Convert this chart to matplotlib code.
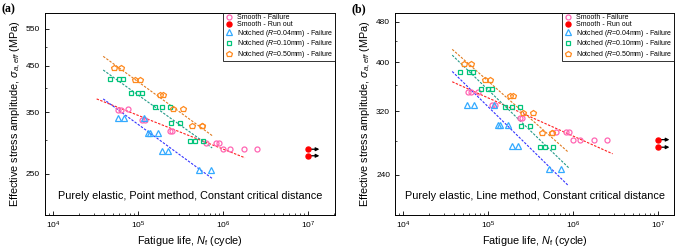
import matplotlib.pyplot as plt
from matplotlib.ticker import FixedLocator, LogLocator, NullFormatter, LogFormatterMathtext

plt.rcParams['font.family'] = ['Liberation Sans', 'DejaVu Sans']
plt.rcParams['mathtext.fontset'] = 'custom'
plt.rcParams['mathtext.rm'] = 'Liberation Sans'
plt.rcParams['mathtext.it'] = 'Liberation Sans:italic'

# ---- data (Nf in cycles, stress in MPa) ----
smooth_n = [58e3, 63e3, 75e3, 110e3, 120e3, 235e3, 252e3, 620e3, 830e3, 890e3, 1.0e6, 1.2e6, 1.77e6, 2.5e6]
smooth_s_point = [354, 354, 355, 336, 336, 316, 316, 296, 296, 296, 286, 286, 286, 286]
smooth_s_line = [350, 350, 350, 330, 330, 310.5, 310.5, 291, 291, 291, 281.5, 281.5, 281.5, 281.5]

runout_n = [1e7, 1e7]
runout_s_point = [286, 276]
runout_s_line = [281.5, 272]

r004_n = [57e3, 68e3, 117e3, 129e3, 137e3, 170e3, 191e3, 221e3, 520e3, 715e3]
r004_s_point = [339, 339, 339, 312, 312, 312, 284, 284, 255, 255]
r004_s_line = [329, 329, 329, 301, 301, 301, 274, 274, 246.6, 246.6]

r010_n = [46e3, 59e3, 66e3, 82e3, 100e3, 110e3, 157e3, 191e3, 235e3, 246e3, 308e3, 405e3, 464e3, 582e3]
r010_s_point = [420, 420, 420, 389, 389, 389, 360, 360, 360, 330, 330, 299, 299, 299]
r010_s_line = [382, 382, 382, 354, 354, 354, 327, 327, 327, 300, 300, 272.6, 272.6, 272.6]

r050_n = [52e3, 62e3, 91e3, 106e3, 180e3, 193e3, 253e3, 338e3, 431e3, 556e3, 566e3]
r050_s_point = [445, 445, 416, 416, 385, 385, 356, 356, 325, 325, 325]
r050_s_line = [396, 396, 369, 369, 343.5, 343.5, 317, 317, 290, 290, 290]

# fitted S-N lines (end points)
fit_point = {
    'smooth': ([32.4e3, 1.8e6], [376, 273]),
    'r004': ([38.7e3, 740e3], [376, 244]),
    'r010': ([38.7e3, 740e3], [440, 288]),
    'r050': ([38.7e3, 740e3], [474, 308]),
}
fit_line = {
    'smooth': ([37.7e3, 2.9e6], [366, 264]),
    'r004': ([37.7e3, 873e3], [383.5, 228.6]),
    'r010': ([37.7e3, 900e3], [413, 247]),
    'r050': ([37.7e3, 873e3], [424, 266]),
}

c_smooth = '#ff66b3'
c_run = '#ff0000'
c_r004 = '#33aaff'
c_r010 = '#00c47a'
c_r050 = '#ff8a1f'
fit_colors = {'smooth': '#ff2020', 'r004': '#3333ff', 'r010': '#229988', 'r050': '#e07b20'}


def draw_panel(ax, s_smooth, s_run, s004, s010, s050, fits, yticks, yminor, ylim, xlim, note, tag):
    ms = 3.6
    mew = 0.9
    for key, (fx, fy) in fits.items():
        ax.plot(fx, fy, ls=(0, (2.2, 1.3)), lw=0.8, color=fit_colors[key], zorder=1)
    ax.plot(smooth_n, s_smooth, 'o', ms=ms, mfc='none', mec=c_smooth, mew=mew, label='Smooth - Failure')
    ax.plot(runout_n, s_run, 'o', ms=ms, color=c_run, label='Smooth - Run out', zorder=4)
    ax.plot(r004_n, s004, '^', ms=ms + 0.4, mfc='none', mec=c_r004, mew=mew,
            label='Notched ($\\mathit{R}$=0.04mm) - Failure')
    ax.plot(r010_n, s010, 's', ms=ms - 0.3, mfc='none', mec=c_r010, mew=mew,
            label='Notched ($\\mathit{R}$=0.10mm) - Failure')
    ax.plot(r050_n, s050, 'p', ms=ms + 0.3, mfc='none', mec=c_r050, mew=mew,
            label='Notched ($\\mathit{R}$=0.50mm) - Failure')
    for xn, ys in zip(runout_n, s_run):
        ax.annotate('', xy=(xn * 1.35, ys), xytext=(xn, ys),
                    arrowprops=dict(arrowstyle='-|>', color='k', lw=0.9, mutation_scale=5,
                                    shrinkA=0, shrinkB=0), zorder=3)

    ax.set_xscale('log')
    ax.set_yscale('log')
    ax.set_xlim(*xlim)
    ax.set_ylim(*ylim)
    ax.xaxis.set_major_locator(LogLocator(base=10, numticks=10))
    ax.xaxis.set_major_formatter(LogFormatterMathtext())
    ax.xaxis.set_minor_locator(LogLocator(base=10, subs=range(2, 10), numticks=20))
    ax.xaxis.set_minor_formatter(NullFormatter())
    ax.yaxis.set_major_locator(FixedLocator(yticks))
    ax.yaxis.set_minor_locator(FixedLocator(yminor))
    ax.yaxis.set_major_formatter(plt.FuncFormatter(lambda v, p: f'{v:.0f}'))
    ax.yaxis.set_minor_formatter(NullFormatter())
    ax.tick_params(which='both', direction='in', labelsize=6, top=False, right=False)
    ax.tick_params(which='major', length=3, width=0.6)
    ax.tick_params(which='minor', length=1.5, width=0.5)
    for sp in ax.spines.values():
        sp.set_linewidth(0.7)

    ax.set_xlabel('Fatigue life, $\\mathit{N}_\\mathrm{f}$ (cycle)', fontsize=7.8, labelpad=2)
    ax.set_ylabel('Effective stress amplitude, $\\mathit{\\sigma}_{\\mathit{a,eff}}$ (MPa)',
                  fontsize=7.8, labelpad=2)
    ax.text(0.5, 0.095, note, transform=ax.transAxes, ha='center', va='center', fontsize=7.8)
    leg = ax.legend(loc='upper right', fontsize=5, borderaxespad=0, fancybox=False,
                    handletextpad=0.5, handlelength=1.3, labelspacing=-0.05, borderpad=0.2,
                    handleheight=0.5)
    leg.get_frame().set_edgecolor('k')
    leg.get_frame().set_linewidth(0.7)
    ax.figure.text(ax.get_position().x0 - 0.063, 0.985, tag, fontsize=8.5, fontweight='bold',
                   family='Liberation Serif', ha='left', va='top')


fig = plt.figure(figsize=(6.85, 2.47), dpi=100)
ax1 = fig.add_axes([0.0657, 0.1296, 0.4233, 0.8178])
ax2 = fig.add_axes([0.5766, 0.1296, 0.4074, 0.8178])

draw_panel(ax1, smooth_s_point, runout_s_point, r004_s_point, r010_s_point, r050_s_point, fit_point,
           [250, 350, 450, 550], [300, 400, 500], (200, 600), (8e3, 2.06e7),
           'Purely elastic, Point method, Constant critical distance', '(a)')
draw_panel(ax2, smooth_s_line, runout_s_line, r004_s_line, r010_s_line, r050_s_line, fit_line,
           [240, 320, 400, 480], [280, 360, 440], (200, 500), (8e3, 1.53e7),
           'Purely elastic, Line method, Constant critical distance', '(b)')

fig.savefig('out.png', dpi=100)
